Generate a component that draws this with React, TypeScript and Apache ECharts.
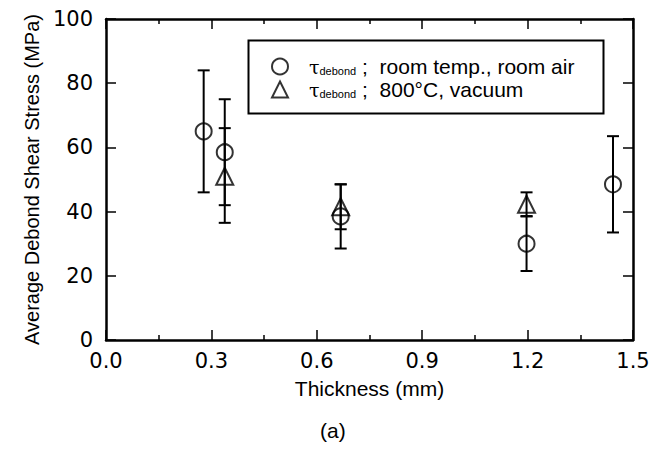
import React, { useEffect, useRef } from "react";
import * as echarts from "echarts";

// Room temperature, room air (circles)
const thicknessRoom = [0.278, 0.338, 0.668, 1.197, 1.443];
const stressRoom = [65, 58.5, 38.5, 30, 48.5];
const lowRoom = [46, 42, 28.5, 21.5, 33.5];
const highRoom = [84, 75, 48.5, 38.5, 63.5];

// 800°C, vacuum (triangles)
const thicknessVac = [0.338, 0.668, 1.197];
const stressVac = [51, 41.5, 42.3];
const lowVac = [36.5, 34.5, 38.6];
const highVac = [66, 48.5, 46];

const nameRoom = "τdebond ; room temp., room air";
const nameVac = "τdebond ; 800°C, vacuum";
const xAxisName = "Thickness (mm)";
const yAxisName = "Average Debond Shear Stress (MPa)";
const caption = "(a)";

const FONT = "'Liberation Sans', Arial, Helvetica, sans-serif";
const NUMFONT = "'DejaVu Sans', 'Liberation Sans', sans-serif";

export default function App() {
  const ref = useRef<HTMLDivElement>(null);

  useEffect(() => {
    if (!ref.current) return;
    const chart = echarts.init(ref.current, null, { renderer: "svg" });

    const errRender = (params: any, api: any) => {
      const x = api.value(0);
      const lo = api.value(1);
      const hi = api.value(2);
      const pLo = api.coord([x, lo]);
      const pHi = api.coord([x, hi]);
      const hw = 6;
      const st = { stroke: "#000", lineWidth: 2 };
      return {
        type: "group",
        children: [
          { type: "line", shape: { x1: pLo[0], y1: pLo[1], x2: pHi[0], y2: pHi[1] }, style: st },
          { type: "line", shape: { x1: pLo[0] - hw, y1: pLo[1], x2: pLo[0] + hw, y2: pLo[1] }, style: st },
          { type: "line", shape: { x1: pHi[0] - hw, y1: pHi[1], x2: pHi[0] + hw, y2: pHi[1] }, style: st },
        ],
      };
    };

    const axisCommon = {
      axisLine: { show: true, onZero: false, lineStyle: { color: "#000", width: 2.5 } },
      splitLine: { show: false },
    };
    const tick = { show: true, inside: true, length: 10, lineStyle: { color: "#000", width: 1.5 } };
    const minor = { show: true, splitNumber: 2, length: 5, lineStyle: { color: "#000", width: 1.5 } };

    const option: any = {
      animation: false,
      backgroundColor: "#fff",
      grid: { left: 106, right: 34, top: 19, bottom: 113, containLabel: false },
      xAxis: [
        {
          type: "value",
          min: 0,
          max: 1.5,
          interval: 0.3,
          position: "bottom",
          name: xAxisName,
          nameLocation: "middle",
          nameGap: 38,
          nameTextStyle: { fontFamily: FONT, fontSize: 21, color: "#000" },
          ...axisCommon,
          axisTick: tick,
          minorTick: minor,
          axisLabel: {
            fontFamily: NUMFONT,
            fontSize: 21,
            color: "#000",
            margin: 10,
            formatter: (v: number) => v.toFixed(1),
          },
        },
        {
          type: "value",
          min: 0,
          max: 1.5,
          interval: 0.3,
          position: "top",
          ...axisCommon,
          axisTick: tick,
          minorTick: minor,
          axisLabel: { show: false },
        },
      ],
      yAxis: [
        {
          type: "value",
          min: 0,
          max: 100,
          interval: 20,
          position: "left",
          name: yAxisName,
          nameLocation: "middle",
          nameGap: 64,
          nameTextStyle: { fontFamily: FONT, fontSize: 20, color: "#000" },
          ...axisCommon,
          axisTick: tick,
          axisLabel: { fontFamily: NUMFONT, fontSize: 21, color: "#000", margin: 13 },
        },
        {
          type: "value",
          min: 0,
          max: 100,
          interval: 20,
          position: "right",
          ...axisCommon,
          axisTick: tick,
          axisLabel: { show: false },
        },
      ],
      legend: {
        orient: "vertical",
        left: 271,
        top: 56,
        padding: 0,
        itemGap: 2,
        itemWidth: 16,
        itemHeight: 16,
        data: [
          { name: nameRoom, icon: "circle" },
          { name: nameVac, icon: "triangle" },
        ],
        formatter: (name: string) => {
          const rest = name === nameRoom ? "room temp., room air" : "800°C, vacuum";
          return "{t|τ}{s|debond}{r| ;  " + rest + "}";
        },
        textStyle: {
          color: "#000",
          padding: [0, 0, 0, 16],
          rich: {
            t: { fontFamily: "'DejaVu Serif', serif", fontSize: 19, color: "#000", lineHeight: 22 },
            s: { fontFamily: FONT, fontSize: 11, color: "#000", lineHeight: 22, padding: [8, 0, 0, 0] },
            r: { fontFamily: FONT, fontSize: 21, color: "#000", lineHeight: 22 },
          },
        },
      },
      graphic: [
        {
          type: "rect",
          left: 246,
          top: 38,
          shape: { width: 355, height: 73 },
          style: { fill: "none", stroke: "#000", lineWidth: 2 },
          z: 10,
        },
        {
          type: "text",
          left: 320,
          top: 420,
          style: { text: caption, font: "21px " + FONT, fill: "#000" },
        },
      ],
      series: [
        {
          name: nameRoom,
          type: "scatter",
          symbol: "circle",
          symbolSize: 16,
          itemStyle: { color: "rgba(255,255,255,0)", borderColor: "#000", borderWidth: 2 },
          data: thicknessRoom.map((x, i) => [x, stressRoom[i]]),
          z: 3,
        },
        {
          name: nameVac,
          type: "scatter",
          symbol: "triangle",
          symbolSize: 17,
          itemStyle: { color: "rgba(255,255,255,0)", borderColor: "#000", borderWidth: 2 },
          data: thicknessVac.map((x, i) => [x, stressVac[i]]),
          z: 3,
        },
        {
          name: "err-room",
          type: "custom",
          renderItem: errRender,
          encode: { x: 0, y: [1, 2] },
          data: thicknessRoom.map((x, i) => [x, lowRoom[i], highRoom[i]]),
          z: 2,
        },
        {
          name: "err-vac",
          type: "custom",
          renderItem: errRender,
          encode: { x: 0, y: [1, 2] },
          data: thicknessVac.map((x, i) => [x, lowVac[i], highVac[i]]),
          z: 2,
        },
      ],
    };

    chart.setOption(option);
    return () => chart.dispose();
  }, []);

  return <div ref={ref} style={{ width: 667, height: 453, position: "absolute", left: 0, top: 0 }} />;
}
